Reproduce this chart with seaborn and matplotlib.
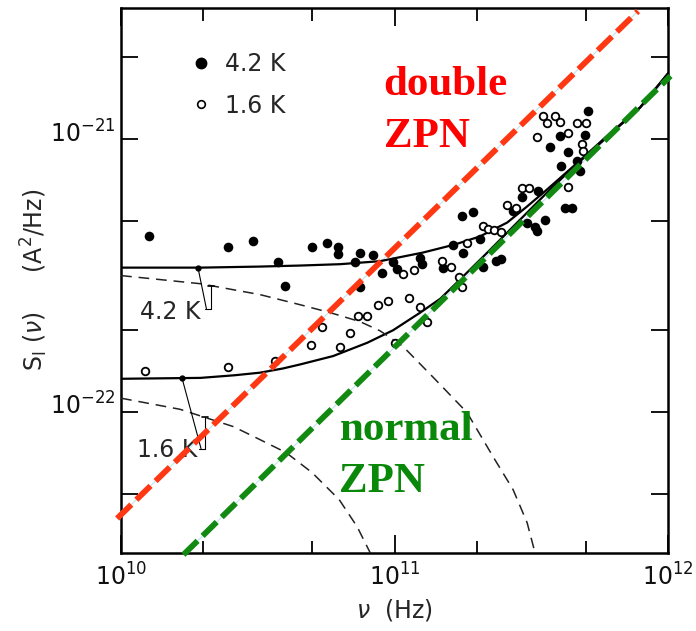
import numpy as np
import pandas as pd
import matplotlib
matplotlib.use('Agg')
import matplotlib.pyplot as plt
import matplotlib.transforms as mtransforms
from matplotlib.lines import Line2D
from matplotlib.ticker import FixedLocator, FixedFormatter, NullFormatter, NullLocator
import seaborn as sns

# measured noise, 4.2 K (filled dots)
nu_42 = [1.26e10, 2.46e10, 3.04e10, 3.75e10, 3.98e10, 4.99e10, 5.66e10, 6.22e10, 6.22e10,
         7.48e10, 7.17e10, 8.34e10, 7.48e10, 9.00e10, 9.87e10, 1.02e11, 1.24e11, 1.26e11,
         1.50e11, 1.64e11, 1.77e11, 1.94e11, 1.78e11, 2.05e11, 2.11e11, 2.35e11, 2.45e11,
         2.71e11, 3.05e11, 3.26e11, 3.32e11, 3.55e11, 3.35e11, 2.93e11, 4.20e11, 4.46e11,
         3.70e11, 4.03e11, 4.31e11, 4.06e11, 4.65e11, 4.77e11, 4.97e11, 5.10e11]
s_42 = [4.40e-22, 4.04e-22, 4.22e-22, 3.53e-22, 2.90e-22, 4.01e-22, 4.18e-22, 4.04e-22, 3.78e-22,
        3.84e-22, 3.53e-22, 3.75e-22, 2.88e-22, 3.22e-22, 3.53e-22, 3.33e-22, 3.68e-22, 3.50e-22,
        3.38e-22, 4.11e-22, 5.21e-22, 5.39e-22, 3.84e-22, 4.29e-22, 3.41e-22, 3.56e-22, 3.65e-22,
        5.44e-22, 4.95e-22, 4.75e-22, 4.59e-22, 5.04e-22, 6.44e-22, 6.12e-22, 5.62e-22, 5.62e-22,
        9.35e-22, 1.03e-21, 8.96e-22, 7.96e-22, 8.30e-22, 7.63e-22, 1.04e-21, 1.27e-21]

# measured noise, 1.6 K (open circles)
nu_16 = [1.22e10, 2.46e10, 3.66e10, 5.43e10, 4.95e10, 6.32e10, 6.88e10, 7.36e10, 7.94e10,
         8.71e10, 9.47e10, 1.13e11, 1.24e11, 1.07e11, 1.18e11, 1.00e11, 1.31e11, 1.49e11,
         1.61e11, 1.72e11, 1.77e11, 1.84e11, 2.11e11, 2.20e11, 2.31e11, 2.45e11, 2.58e11,
         2.78e11, 2.93e11, 3.10e11, 3.32e11, 3.49e11, 3.86e11, 3.61e11, 4.03e11, 4.65e11,
         5.01e11, 4.31e11, 4.85e11, 4.89e11, 4.31e11]
s_16 = [1.41e-22, 1.46e-22, 1.53e-22, 2.04e-22, 1.75e-22, 1.73e-22, 1.95e-22, 2.25e-22, 2.24e-22,
        2.47e-22, 2.54e-22, 2.62e-22, 2.43e-22, 3.19e-22, 3.30e-22, 1.78e-22, 2.14e-22, 3.59e-22,
        3.41e-22, 3.11e-22, 2.86e-22, 4.18e-22, 4.79e-22, 4.67e-22, 4.63e-22, 4.55e-22, 5.72e-22,
        5.58e-22, 6.61e-22, 6.61e-22, 1.02e-21, 1.22e-21, 1.22e-21, 1.15e-21, 1.16e-21, 1.15e-21,
        1.15e-21, 1.06e-21, 9.59e-22, 9.04e-22, 6.66e-22]

# total noise curves (solid)
nu_tot_42 = [1.0e10, 1.95e10, 3.2e10, 4.51e10, 6.32e10, 8.85e10, 1.27e11, 1.66e11, 2.05e11, 2.58e11,
             3.05e11, 3.61e11, 4.50e11, 5.98e11, 7.90e11, 1.0e12]
s_tot_42 = [3.38e-22, 3.38e-22, 3.41e-22, 3.44e-22, 3.48e-22, 3.57e-22, 3.84e-22, 4.11e-22, 4.40e-22,
            4.95e-22, 5.67e-22, 6.55e-22, 7.96e-22, 1.03e-21, 1.31e-21, 1.75e-21]
nu_tot_16 = [1.0e10, 1.95e10, 2.6e10, 3.22e10, 3.9e10, 4.51e10, 5.96e10, 7.94e10, 9.87e10, 1.24e11,
             1.47e11, 1.69e11, 2.24e11, 2.88e11, 3.61e11, 4.50e11, 5.98e11, 7.90e11, 1.0e12]
s_tot_16 = [1.32e-22, 1.33e-22, 1.36e-22, 1.39e-22, 1.44e-22, 1.49e-22, 1.60e-22, 1.79e-22, 1.99e-22,
            2.31e-22, 2.60e-22, 2.98e-22, 3.94e-22, 5.08e-22, 6.38e-22, 7.90e-22, 1.02e-21,
            1.31e-21, 1.75e-21]

# thermal parts (thin dashed)
nu_th_42 = [1.0e10, 1.95e10, 3.22e10, 4.51e10, 5.81e10, 7.48e10, 8.85e10, 1.07e11, 1.38e11,
            1.84e11, 2.29e11, 2.71e11, 3.05e11, 3.26e11, 3.40e11]
s_th_42 = [3.16e-22, 2.95e-22, 2.69e-22, 2.47e-22, 2.31e-22, 2.14e-22, 1.98e-22, 1.74e-22, 1.34e-22,
           9.92e-23, 6.83e-23, 5.17e-23, 3.91e-23, 3.03e-23, 2.5e-23]
nu_th_16 = [1.0e10, 1.64e10, 2.57e10, 3.06e10, 4.01e10, 4.99e10, 6.27e10, 7.29e10, 8.14e10, 8.49e10]
s_th_16 = [1.12e-22, 1.02e-22, 8.81e-23, 8.09e-23, 7.07e-23, 5.97e-23, 4.75e-23, 3.78e-23,
           3.03e-23, 2.6e-23]

# zero point noise lines (overlay)
nu_double = [9.67e9, 7.76e11]
s_double = [4.05e-23, 2.96e-21]
nu_normal = [1.69e10, 1.02e12]
s_normal = [2.98e-23, 1.71e-21]

x_ticks = [1e10, 1e11, 1e12]
x_labels = [r'$10^{10}$', r'$10^{11}$', r'$10^{12}$']
x_minor = [2e10, 5e10, 2e11, 5e11]
y_ticks = [5e-23, 1e-22, 2e-22, 5e-22, 1e-21, 2e-21]
y_labels = ['', r'$10^{-22}$', '', '', r'$10^{-21}$', '']

sns.set_style('ticks')
plt.rcParams['font.family'] = ['DejaVu Sans']
plt.rcParams['mathtext.fontset'] = 'dejavusans'

fig = plt.figure(figsize=(6.96, 6.31), dpi=100)
ax = fig.add_axes([0.174, 0.124, 0.786, 0.864])
ax.set_xscale('log')
ax.set_yscale('log')

# overlay lines (thin light line shows through the gaps)
for nu, s, col in [(nu_double, s_double, '#ff3814'), (nu_normal, s_normal, '#128a12')]:
    ax.plot(nu, s, color='#bfe6ee', lw=0.8, clip_on=False, zorder=1)
    sns.lineplot(x=nu, y=s, ax=ax, color=col, lw=4.2, linestyle=(0, (3.4, 1.2)),
                 estimator=None, sort=False, clip_on=False, zorder=5)

for nu, s in [(nu_tot_42, s_tot_42), (nu_tot_16, s_tot_16)]:
    sns.lineplot(x=nu, y=s, ax=ax, color='black', lw=1.6, estimator=None, sort=False, zorder=3)
for nu, s in [(nu_th_42, s_th_42), (nu_th_16, s_th_16)]:
    sns.lineplot(x=nu, y=s, ax=ax, color='#222222', lw=1.1, linestyle=(0, (7, 4.5)),
                 estimator=None, sort=False, zorder=3)

sns.scatterplot(x=nu_42, y=s_42, ax=ax, color='black', s=48, edgecolor='black',
                linewidth=0, zorder=4, legend=False)
sns.scatterplot(x=nu_16, y=s_16, ax=ax, color='white', s=30, edgecolor='black',
                linewidth=1.3, zorder=4, legend=False)

# temperature leaders: dot on total curve, bracket down to thermal curve
def on_curve(x, nu, s):
    return 10 ** np.interp(np.log10(x), np.log10(nu), np.log10(s))

leaders = [('4.2 K', 1.91e10, 2.05e10, 2.39e-22, 2.13e10, (1.51e10, 2.33e-22), nu_tot_42, s_tot_42, nu_th_42, s_th_42),
           ('1.6 K', 1.67e10, 1.96e10, 7.31e-23, 2.03e10, (1.47e10, 7.25e-23), nu_tot_16, s_tot_16, nu_th_16, s_th_16)]
for txt, xd, xh, yh, xt, lab, nt, st, nth, sth in leaders:
    yd = on_curve(xd, nt, st)
    yt = on_curve(xt, nth, sth)
    ax.plot([xd, xh], [yd, yh], color='black', lw=0.8, zorder=3)
    ax.plot([xh * 0.985, xt, xt], [yh, yh, yt], color='black', lw=0.8, zorder=3)
    ax.plot([xt * 0.975, xt * 1.025], [yt, yt], color='black', lw=1.2, zorder=3)
    ax.plot([xd], [yd], marker='o', ms=3.5, color='black', zorder=3)
    ax.text(lab[0], lab[1], txt, fontsize=17, ha='center', va='center', zorder=3)

ax.set_xlim(1e10, 1e12)
ax.set_ylim(3.03e-23, 3.05e-21)
ax.xaxis.set_major_locator(FixedLocator(x_ticks))
ax.xaxis.set_major_formatter(FixedFormatter(x_labels))
ax.xaxis.set_minor_locator(FixedLocator(x_minor))
ax.xaxis.set_minor_formatter(NullFormatter())
ax.yaxis.set_major_locator(FixedLocator(y_ticks))
ax.yaxis.set_major_formatter(FixedFormatter(y_labels))
ax.yaxis.set_minor_locator(NullLocator())
ax.tick_params(which='both', direction='in', top=True, right=True, width=1.3,
               color='black', labelsize=17, labelcolor='#111111')
ax.tick_params(which='major', length=12)
ax.tick_params(axis='x', which='major', length=13, pad=8)
ax.tick_params(axis='x', which='minor', length=9)
ax.tick_params(axis='y', pad=4)
shift = mtransforms.ScaledTranslation(0, 0.08, fig.dpi_scale_trans)
for lab in ax.get_yticklabels():
    lab.set_transform(lab.get_transform() + shift)
for sp in ax.spines.values():
    sp.set_linewidth(1.8)
    sp.set_color('black')

ax.set_xlabel(r'$\nu$  (Hz)', fontsize=17, labelpad=4)
ax.set_ylabel(r'$\mathrm{S_I}\ (\nu)\ \ \ \ \ (\mathrm{A^2/Hz})$', fontsize=17, labelpad=0)

handles = [Line2D([], [], ls='', marker='o', ms=7.5, mfc='black', mec='black'),
           Line2D([], [], ls='', marker='o', ms=5.5, mfc='white', mec='black', mew=1.2)]
ax.legend(handles, ['4.2 K', '1.6 K'], loc='upper left', bbox_to_anchor=(0.108, 0.936),
          frameon=False, fontsize=17, handlelength=1.0, handletextpad=0.5,
          labelspacing=0.75, borderpad=0.4, borderaxespad=0)

serif = dict(family='Liberation Serif', fontweight='bold', fontsize=31, va='baseline',
             ha='left', transform=ax.transAxes, zorder=6)
ax.text(0.480, 0.840, 'double', color='#ff0000', **serif)
ax.text(0.480, 0.745, 'ZPN', color='#ff0000', **serif)
ax.text(0.400, 0.207, 'normal', color='#0a880a', **serif)
ax.text(0.398, 0.112, 'ZPN', color='#0a880a', **serif)

fig.savefig('out.png', dpi=100)
